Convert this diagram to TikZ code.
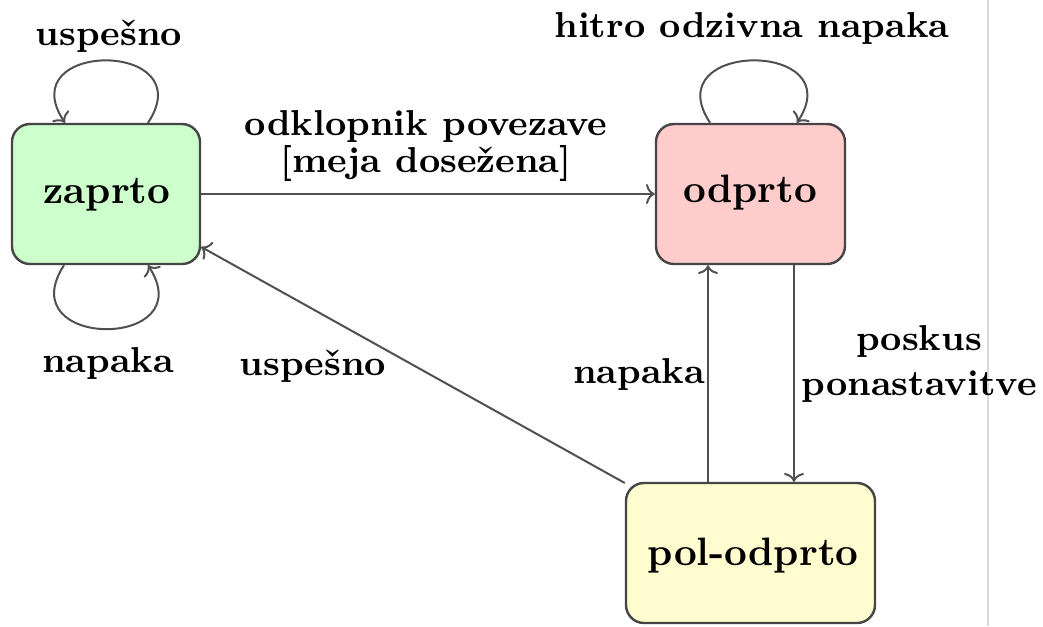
\documentclass[tikz,border=0pt]{standalone}
\usetikzlibrary{arrows.meta}
\definecolor{closedfill}{HTML}{CCFFCC}
\definecolor{openfill}{HTML}{FFCCCC}
\definecolor{halffill}{HTML}{FFFCD0}
\definecolor{boxline}{HTML}{454545}
\definecolor{edgeline}{HTML}{505050}
\definecolor{ruleline}{HTML}{DADADA}
\begin{document}
\begin{tikzpicture}[x=0.25pt,y=-0.25pt,
  state/.style={draw=boxline, line width=0.6pt, rounded corners=4.5pt,
    minimum height=35pt, inner sep=0pt},
  stxt/.style={anchor=base, inner sep=0pt, font=\fontsize{9.9}{12}\selectfont\bfseries},
  edge/.style={draw=edgeline, line width=0.5pt, -{To[length=2.2pt,width=5pt]}},
  lbl/.style={inner sep=0pt, align=center,
    font=\fontsize{9}{9.25}\selectfont\bfseries}]
  \useasboundingbox (0,0) rectangle (1043,626);
  % thin rule at the right
  \draw[ruleline, line width=0.4pt] (988,0) -- (988,626);

  % states
  \node[state, fill=closedfill, minimum width=47pt]    (zap) at (106,194)   {};
  \node[state, fill=openfill,   minimum width=47.25pt] (odp) at (750.5,194) {};
  \node[state, fill=halffill,   minimum width=62.25pt] (pol) at (750.5,553) {};
  \node[stxt] (zapt) at (107,203) {zaprto};
  \node[stxt] (odpt) at (750,202) {odprto};
  \node[stxt] (polt) at (753,565) {pol-odprto};

  % x positions of the two vertical transitions
  \coordinate (xup) at (708,0);
  \coordinate (xdn) at (794,0);

  % transitions
  \draw[edge] (zap) -- (odp);
  \draw[edge] (pol) -- (zap);
  \draw[edge] (pol.north -| xup) -- (odp.south -| xup);
  \draw[edge] (odp.south -| xdn) -- (pol.north -| xdn);

  % self loops
  \draw[edge] ([xshift=10.5pt]zap.north) .. controls +(55,-83) and +(-55,-83) .. ([xshift=-10.25pt]zap.north);
  \draw[edge] ([xshift=-10.5pt]zap.south) .. controls +(-55,85) and +(55,85) .. ([xshift=10.5pt]zap.south);
  \draw[edge] ([xshift=-10.1pt]odp.north) .. controls +(-55,-83) and +(55,-83) .. ([xshift=11.6pt]odp.north);

  % labels
  \node[lbl, anchor=base] (l1) at (109,45)  {uspešno};
  \node[lbl, anchor=base] (l2) at (108,372) {napaka};
  \node[lbl] (l3) at (426,145.5) {odklopnik povezave\\{}[meja dosežena]};
  \node[lbl, anchor=base] (l4) at (752,37)  {hitro odzivna napaka};
  \node[lbl, anchor=base] (l5) at (313,375) {uspešno};
  \node[lbl, anchor=base] (l6) at (639,383) {napaka};
  \node[lbl, font=\fontsize{9}{11.25}\selectfont\bfseries] (l7) at (919,363.5) {poskus\\ponastavitve};
\end{tikzpicture}
\end{document}
